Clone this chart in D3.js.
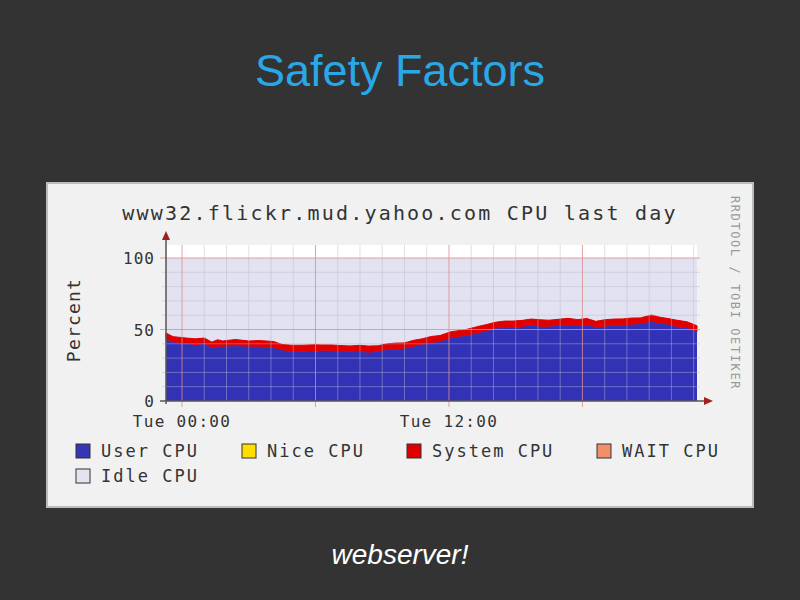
<!DOCTYPE html>
<html><head><meta charset="utf-8">
<script src="https://cdn.jsdelivr.net/npm/d3@7"></script>
<style>body{margin:0;background:#333333;}</style>
</head><body>
<svg id="c" width="800" height="600"></svg>
<script>
const hours = [-0.72,-0.4,0.2,0.6,1.0,1.34,1.6,1.83,2.4,3.0,3.46,4.12,4.5,4.93,5.4,5.92,6.3,6.73,7.1,7.55,8.0,8.37,8.8,9.19,9.6,10.0,10.4,10.8,11.2,11.6,12.1,12.7,13.3,13.7,14.1,14.5,14.9,15.3,15.7,16.1,16.5,16.9,17.35,17.8,18.2,18.6,19.0,19.4,19.8,20.2,20.6,21.1,21.5,21.8,22.2,22.7,23.15];
const userCpu = [43,41,40,39,40,37,38,38,38.5,38,38,37,35.5,34.5,34.8,34.5,35.2,34.9,34.3,34.5,34.6,33.8,34.6,35.7,36,36.5,38,39.5,40.5,41.5,44,45.5,47.3,49,50.8,51,51.5,51.8,53.1,52,52,52.8,53.1,52.5,53.1,51.5,52,52.8,53,53.4,53.8,55.4,54,53.6,52,51,48.5];
const systemCpu = [4.5,4,4,4.5,4,4.2,4.8,4,4.5,4,4.3,4.6,4,4.5,4.2,4.8,4,4.3,4.5,4,4.3,4.6,4,4.2,4.5,4.1,4.4,4,4.6,4.3,4.5,4.2,4.8,4.5,4.3,4.9,4.4,4.6,4.2,4.8,4.5,4.3,4.7,4.4,4.6,4.2,4.8,4.5,4.4,4.6,4.3,4.7,4.5,4.2,4.6,4.4,4.1];
const yTicks = [0,50,100];
const xTickHours = [0,12];
const xTickLabels = ["Tue 00:00","Tue 12:00"];
const legendItems = [["User CPU","#3535b5"],["Nice CPU","#ffdd00"],["System CPU","#e00000"],["WAIT CPU","#f0906a"],["Idle CPU","#e4e4f0"]];

const svg = d3.select("#c");
svg.append("text").attr("x",400).attr("y",86).attr("text-anchor","middle")
  .attr("font-family","Liberation Sans, Arial").attr("font-size",45).attr("fill","#29a8e8").text("Safety Factors");
svg.append("text").attr("x",400).attr("y",564).attr("text-anchor","middle")
  .attr("font-family","Liberation Sans, Arial").attr("font-style","italic").attr("font-size",28).attr("fill","#ffffff").text("webserver!");

svg.append("rect").attr("x",47).attr("y",183).attr("width",706).attr("height",324).attr("fill","#f1f1f1").attr("stroke","#bcbcbc").attr("stroke-width",2);

const x = d3.scaleLinear().domain([-0.72,23.15]).range([166,697]);
const y = d3.scaleLinear().domain([0,100]).range([401,258]);
const mono = "DejaVu Sans Mono, monospace";

svg.append("rect").attr("x",166).attr("y",245).attr("width",531).attr("height",156).attr("fill","#ffffff");
svg.append("rect").attr("x",166).attr("y",y(100)).attr("width",531).attr("height",y(0)-y(100)).attr("fill","#e2e2f0");

const dataU = hours.map((h,i)=>[h,userCpu[i],systemCpu[i]]);
svg.append("path").attr("fill","#e00000")
  .attr("d",d3.area().x(d=>x(d[0])).y0(d=>y(d[1])).y1(d=>y(d[1]+d[2]))(dataU))
  .attr("stroke","#e00000").attr("stroke-width",1);
svg.append("path").attr("fill","#3232b6")
  .attr("d",d3.area().x(d=>x(d[0])).y0(y(0)).y1(d=>y(d[1]))(dataU));

const g = svg.append("g");
for(let h=0;h<=23;h++){ if(h%6!==0) g.append("line").attr("x1",x(h)).attr("x2",x(h)).attr("y1",245).attr("y2",401).attr("stroke","#b8b8d0").attr("stroke-opacity",0.45);}
d3.range(10,101,10).forEach(v=>{ if(v%50!==0) g.append("line").attr("x1",162).attr("x2",700).attr("y1",y(v)).attr("y2",y(v)).attr("stroke","#b8b8d0").attr("stroke-opacity",0.45);});
[0,6,12,18].forEach(h=>g.append("line").attr("x1",x(h)).attr("x2",x(h)).attr("y1",245).attr("y2",407).attr("stroke","#e08c8c").attr("stroke-opacity",0.8));
[50,100].forEach(v=>g.append("line").attr("x1",160).attr("x2",700).attr("y1",y(v)).attr("y2",y(v)).attr("stroke","#e08c8c").attr("stroke-opacity",0.8));

svg.append("line").attr("x1",166).attr("x2",166).attr("y1",404).attr("y2",238).attr("stroke","#555").attr("stroke-width",1.5);
svg.append("path").attr("d","M162,240 L170,240 L166,231 Z").attr("fill","#a02020");
svg.append("line").attr("x1",160).attr("x2",705).attr("y1",401).attr("y2",401).attr("stroke","#555").attr("stroke-width",1.5);
svg.append("path").attr("d","M704,397 L704,405 L713,401 Z").attr("fill","#a02020");

yTicks.forEach(v=>svg.append("text").attr("x",155).attr("y",y(v)+6).attr("text-anchor","end").attr("font-family",mono).attr("font-size",16).attr("letter-spacing",1).attr("fill","#333").text(v));
xTickHours.forEach((h,i)=>svg.append("text").attr("x",x(h)).attr("y",427).attr("text-anchor","middle").attr("font-family",mono).attr("font-size",16).attr("letter-spacing",1.3).attr("fill","#333").text(xTickLabels[i]));

svg.append("text").attr("x",400).attr("y",220).attr("text-anchor","middle").attr("font-family",mono).attr("font-size",20).attr("letter-spacing",2.2).attr("fill","#333").text("www32.flickr.mud.yahoo.com CPU last day");
svg.append("text").attr("transform","translate(80,320) rotate(-90)").attr("text-anchor","middle").attr("font-family",mono).attr("font-size",18).attr("letter-spacing",1.2).attr("fill","#333").text("Percent");
svg.append("text").attr("transform","translate(731,293) rotate(90)").attr("text-anchor","middle").attr("font-family",mono).attr("font-size",12).attr("letter-spacing",1.6).attr("fill","#999").text("RRDTOOL / TOBI OETIKER");

const lpos = [[76,444],[242,444],[407,444],[597,444],[76,469]];
legendItems.forEach((d,i)=>{
  const [lx,ly]=lpos[i];
  svg.append("rect").attr("x",lx).attr("y",ly).attr("width",14).attr("height",14).attr("fill",d[1]).attr("stroke","#333").attr("stroke-width",1);
  svg.append("text").attr("x",lx+25).attr("y",ly+13).attr("font-family",mono).attr("font-size",17).attr("letter-spacing",2).attr("fill","#333").text(d[0]);
});
</script>
</body></html>
